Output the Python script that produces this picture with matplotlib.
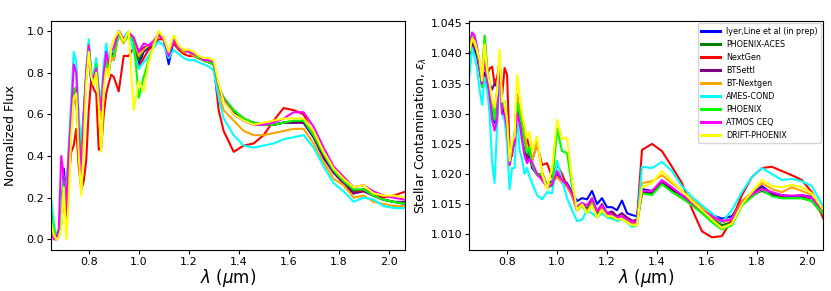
import matplotlib
matplotlib.use('Agg')
import matplotlib.pyplot as plt

# wavelength grid (micron)
wl = [0.65, 0.66, 0.67, 0.68, 0.69, 0.70, 0.71, 0.72, 0.73, 0.74, 0.75, 0.76, 0.77,
      0.78, 0.79, 0.80, 0.81, 0.82, 0.83, 0.84, 0.85, 0.86, 0.87, 0.88, 0.89, 0.90,
      0.92, 0.94, 0.96, 0.98, 1.00, 1.02, 1.04, 1.06, 1.08, 1.10, 1.12, 1.14, 1.16,
      1.18, 1.20, 1.22, 1.24, 1.26, 1.28, 1.30, 1.32,
      1.34, 1.38, 1.42, 1.46, 1.50, 1.54, 1.58, 1.62, 1.66, 1.70, 1.74, 1.78, 1.82,
      1.86, 1.90, 1.94, 1.98, 2.02, 2.07]

labels = ['Iyer,Line et al (in prep)', 'PHOENIX-ACES', 'NextGen', 'BTSettl', 'BT-Nextgen',
          'AMES-COND', 'PHOENIX', 'ATMOS CEQ', 'DRIFT-PHOENIX']
colors = ['blue', 'green', 'red', 'purple', 'orange', 'cyan', 'lime', 'magenta', 'yellow']

# normalized flux
flux_iyer = [0.12, 0.03, 0.01, 0.02, 0.10, 0.34, 0.21, 0.38, 0.58, 0.70, 0.70, 0.48, 0.42, 0.60, 0.78, 0.92, 0.75, 0.76, 0.83, 0.68, 0.62, 0.78, 0.88, 0.80, 0.90, 0.86,
             1.00, 0.95, 0.99, 0.96, 0.84, 0.90, 0.92, 0.95, 0.98, 0.96, 0.84, 0.96, 0.92, 0.90, 0.90, 0.88, 0.87, 0.86, 0.85, 0.84, 0.72,
             0.67, 0.60, 0.57, 0.55, 0.55, 0.55, 0.56, 0.56, 0.56, 0.49, 0.39, 0.32, 0.28, 0.23, 0.24, 0.21, 0.19, 0.18, 0.17]
flux_aces = [0.13, 0.05, 0.02, 0.02, 0.08, 0.30, 0.25, 0.35, 0.55, 0.72, 0.72, 0.50, 0.40, 0.58, 0.80, 0.93, 0.78, 0.75, 0.84, 0.70, 0.60, 0.76, 0.86, 0.82, 0.88, 0.88,
             0.99, 0.96, 0.98, 0.95, 0.86, 0.91, 0.93, 0.95, 0.99, 0.97, 0.88, 0.97, 0.92, 0.91, 0.90, 0.89, 0.87, 0.86, 0.85, 0.84, 0.73,
             0.68, 0.62, 0.58, 0.56, 0.55, 0.55, 0.56, 0.56, 0.57, 0.49, 0.40, 0.33, 0.28, 0.23, 0.24, 0.21, 0.19, 0.18, 0.17]
flux_nextgen = [0.03, 0.01, 0.00, 0.01, 0.08, 0.20, 0.10, 0.30, 0.42, 0.45, 0.53, 0.35, 0.24, 0.28, 0.38, 0.62, 0.77, 0.72, 0.70, 0.43, 0.44, 0.60, 0.70, 0.75, 0.79, 0.78,
                0.71, 0.88, 0.88, 0.92, 0.82, 0.87, 0.91, 0.93, 0.96, 0.96, 0.90, 0.94, 0.91, 0.89, 0.88, 0.88, 0.87, 0.86, 0.85, 0.84, 0.62,
                0.52, 0.42, 0.45, 0.46, 0.50, 0.57, 0.63, 0.62, 0.60, 0.50, 0.40, 0.32, 0.27, 0.22, 0.24, 0.22, 0.20, 0.21, 0.23]
flux_btsettl = [0.12, 0.04, 0.01, 0.02, 0.09, 0.30, 0.22, 0.40, 0.60, 0.66, 0.66, 0.50, 0.42, 0.58, 0.78, 0.90, 0.76, 0.75, 0.82, 0.68, 0.60, 0.77, 0.86, 0.80, 0.89, 0.87,
                1.00, 0.96, 0.98, 0.96, 0.90, 0.92, 0.93, 0.95, 0.98, 0.96, 0.88, 0.96, 0.92, 0.90, 0.91, 0.88, 0.87, 0.86, 0.85, 0.84, 0.73,
                0.67, 0.61, 0.57, 0.56, 0.55, 0.55, 0.56, 0.56, 0.56, 0.49, 0.40, 0.32, 0.27, 0.22, 0.23, 0.21, 0.19, 0.18, 0.18]
flux_btnextgen = [0.10, 0.03, 0.01, 0.02, 0.08, 0.28, 0.20, 0.36, 0.55, 0.68, 0.70, 0.48, 0.38, 0.56, 0.78, 0.92, 0.78, 0.76, 0.82, 0.66, 0.58, 0.75, 0.87, 0.80, 0.88, 0.86,
                  0.98, 0.94, 0.99, 0.96, 0.88, 0.91, 0.93, 0.95, 0.99, 0.96, 0.89, 0.96, 0.92, 0.90, 0.90, 0.88, 0.87, 0.86, 0.85, 0.84, 0.70,
                  0.62, 0.57, 0.52, 0.50, 0.50, 0.51, 0.52, 0.53, 0.53, 0.46, 0.37, 0.29, 0.26, 0.20, 0.21, 0.18, 0.17, 0.16, 0.16]
flux_ames = [0.19, 0.08, 0.02, 0.03, 0.12, 0.30, 0.22, 0.45, 0.68, 0.90, 0.85, 0.60, 0.44, 0.62, 0.82, 0.96, 0.80, 0.80, 0.87, 0.72, 0.68, 0.84, 0.94, 0.85, 0.92, 0.90,
             0.98, 0.97, 1.00, 0.90, 0.82, 0.85, 0.88, 0.92, 0.95, 0.93, 0.87, 0.91, 0.89, 0.87, 0.86, 0.86, 0.85, 0.84, 0.83, 0.81, 0.68,
             0.58, 0.50, 0.45, 0.44, 0.45, 0.46, 0.48, 0.49, 0.50, 0.44, 0.35, 0.27, 0.23, 0.18, 0.20, 0.19, 0.16, 0.15, 0.15]
flux_phoenix = [0.13, 0.05, 0.02, 0.02, 0.08, 0.28, 0.22, 0.38, 0.56, 0.72, 0.73, 0.50, 0.40, 0.58, 0.80, 0.93, 0.80, 0.76, 0.84, 0.70, 0.62, 0.76, 0.86, 0.82, 0.88, 0.88,
                0.99, 0.95, 0.98, 0.96, 0.68, 0.78, 0.86, 0.93, 0.99, 0.97, 0.89, 0.97, 0.92, 0.91, 0.90, 0.89, 0.87, 0.86, 0.85, 0.84, 0.73,
                0.68, 0.62, 0.58, 0.56, 0.55, 0.55, 0.56, 0.57, 0.57, 0.50, 0.41, 0.33, 0.28, 0.24, 0.24, 0.21, 0.19, 0.18, 0.17]
flux_atmos = [0.04, 0.00, 0.00, 0.05, 0.40, 0.30, 0.15, 0.42, 0.60, 0.84, 0.80, 0.52, 0.31, 0.60, 0.80, 0.93, 0.78, 0.78, 0.82, 0.70, 0.62, 0.80, 0.90, 0.84, 0.90, 0.92,
              1.00, 0.96, 0.99, 0.97, 0.90, 0.94, 0.93, 0.95, 0.98, 0.96, 0.88, 0.96, 0.92, 0.91, 0.90, 0.89, 0.88, 0.86, 0.86, 0.85, 0.74,
              0.67, 0.60, 0.57, 0.55, 0.55, 0.56, 0.58, 0.61, 0.61, 0.54, 0.44, 0.35, 0.30, 0.25, 0.26, 0.23, 0.21, 0.20, 0.19]
flux_drift = [0.08, 0.02, 0.00, 0.01, 0.05, 0.25, 0.00, 0.20, 0.50, 0.68, 0.70, 0.40, 0.21, 0.45, 0.75, 0.90, 0.78, 0.74, 0.80, 0.65, 0.42, 0.72, 0.82, 0.78, 0.92, 0.96,
              1.00, 0.95, 1.00, 0.62, 0.76, 0.71, 0.85, 0.93, 1.00, 0.97, 0.90, 0.98, 0.93, 0.91, 0.91, 0.90, 0.88, 0.87, 0.87, 0.86, 0.75,
              0.66, 0.60, 0.57, 0.55, 0.56, 0.57, 0.58, 0.58, 0.58, 0.52, 0.42, 0.34, 0.29, 0.25, 0.26, 0.22, 0.21, 0.21, 0.20]

# stellar contamination
eps_iyer = [1.0400, 1.0420, 1.0410, 1.0405, 1.0385, 1.0350, 1.0368, 1.0350, 1.0335, 1.0310, 1.0285, 1.0330, 1.0370, 1.0310, 1.0300, 1.0270, 1.0225, 1.0245, 1.0250, 1.0300, 1.0290, 1.0270, 1.0255, 1.0222, 1.0230, 1.0210,
            1.0200, 1.0197, 1.0183, 1.0188, 1.0200, 1.0190, 1.0185, 1.0170, 1.0155, 1.0160, 1.0158, 1.0172, 1.0150, 1.0160, 1.0145, 1.0145, 1.0140, 1.0156, 1.0135, 1.0132, 1.0130,
            1.0175, 1.0172, 1.0185, 1.0175, 1.0165, 1.0152, 1.0140, 1.0132, 1.0126, 1.0130, 1.0155, 1.0167, 1.0180, 1.0168, 1.0165, 1.0163, 1.0165, 1.0162, 1.0140]
eps_aces = [1.0405, 1.0428, 1.0420, 1.0400, 1.0380, 1.0345, 1.0420, 1.0370, 1.0345, 1.0315, 1.0290, 1.0335, 1.0385, 1.0320, 1.0310, 1.0280, 1.0215, 1.0240, 1.0250, 1.0320, 1.0300, 1.0280, 1.0250, 1.0230, 1.0240, 1.0215,
            1.0200, 1.0200, 1.0180, 1.0185, 1.0200, 1.0188, 1.0180, 1.0165, 1.0140, 1.0150, 1.0140, 1.0150, 1.0135, 1.0145, 1.0132, 1.0135, 1.0128, 1.0130, 1.0125, 1.0120, 1.0120,
            1.0168, 1.0168, 1.0185, 1.0172, 1.0160, 1.0150, 1.0138, 1.0125, 1.0115, 1.0120, 1.0150, 1.0165, 1.0172, 1.0165, 1.0160, 1.0160, 1.0160, 1.0155, 1.0130]
eps_nextgen = [1.0400, 1.0425, 1.0415, 1.0400, 1.0380, 1.0345, 1.0360, 1.0365, 1.0375, 1.0378, 1.0350, 1.0360, 1.0385, 1.0330, 1.0376, 1.0365, 1.0240, 1.0230, 1.0265, 1.0332, 1.0300, 1.0290, 1.0270, 1.0260, 1.0240, 1.0222,
               1.0250, 1.0215, 1.0218, 1.0195, 1.0215, 1.0200, 1.0180, 1.0165, 1.0140, 1.0150, 1.0140, 1.0150, 1.0135, 1.0140, 1.0130, 1.0135, 1.0125, 1.0130, 1.0125, 1.0120, 1.0125,
               1.0240, 1.0250, 1.0238, 1.0212, 1.0185, 1.0142, 1.0105, 1.0095, 1.0097, 1.0125, 1.0165, 1.0195, 1.0210, 1.0212, 1.0205, 1.0198, 1.0190, 1.0170, 1.0122]
eps_btsettl = [1.0400, 1.0415, 1.0405, 1.0395, 1.0370, 1.0350, 1.0395, 1.0355, 1.0350, 1.0340, 1.0350, 1.0345, 1.0390, 1.0300, 1.0320, 1.0280, 1.0220, 1.0240, 1.0255, 1.0310, 1.0290, 1.0270, 1.0250, 1.0225, 1.0230, 1.0215,
               1.0198, 1.0195, 1.0180, 1.0185, 1.0200, 1.0190, 1.0182, 1.0168, 1.0145, 1.0152, 1.0142, 1.0155, 1.0138, 1.0150, 1.0135, 1.0138, 1.0130, 1.0135, 1.0128, 1.0123, 1.0122,
               1.0170, 1.0170, 1.0187, 1.0175, 1.0165, 1.0152, 1.0140, 1.0128, 1.0120, 1.0125, 1.0152, 1.0165, 1.0178, 1.0165, 1.0162, 1.0160, 1.0162, 1.0160, 1.0136]
eps_btnextgen = [1.0405, 1.0425, 1.0415, 1.0405, 1.0385, 1.0355, 1.0428, 1.0380, 1.0350, 1.0320, 1.0300, 1.0340, 1.0390, 1.0320, 1.0310, 1.0280, 1.0220, 1.0250, 1.0260, 1.0330, 1.0310, 1.0290, 1.0270, 1.0240, 1.0245, 1.0220,
                 1.0253, 1.0205, 1.0180, 1.0185, 1.0195, 1.0185, 1.0178, 1.0165, 1.0140, 1.0150, 1.0138, 1.0152, 1.0128, 1.0145, 1.0132, 1.0132, 1.0125, 1.0130, 1.0122, 1.0118, 1.0120,
                 1.0185, 1.0188, 1.0198, 1.0185, 1.0172, 1.0158, 1.0145, 1.0130, 1.0120, 1.0125, 1.0155, 1.0170, 1.0185, 1.0175, 1.0170, 1.0178, 1.0172, 1.0165, 1.0138]
eps_ames = [1.0365, 1.0410, 1.0395, 1.0375, 1.0340, 1.0315, 1.0360, 1.0340, 1.0300, 1.0220, 1.0185, 1.0280, 1.0360, 1.0300, 1.0290, 1.0250, 1.0175, 1.0210, 1.0210, 1.0300, 1.0240, 1.0225, 1.0200, 1.0210, 1.0195, 1.0185,
            1.0165, 1.0158, 1.0170, 1.0168, 1.0222, 1.0190, 1.0160, 1.0140, 1.0122, 1.0124, 1.0140, 1.0135, 1.0128, 1.0135, 1.0128, 1.0126, 1.0122, 1.0125, 1.0120, 1.0112, 1.0115,
            1.0212, 1.0210, 1.0220, 1.0205, 1.0180, 1.0162, 1.0148, 1.0135, 1.0120, 1.0140, 1.0170, 1.0195, 1.0210, 1.0200, 1.0190, 1.0192, 1.0188, 1.0180, 1.0142]
eps_phoenix = [1.0410, 1.0430, 1.0420, 1.0405, 1.0380, 1.0345, 1.0430, 1.0375, 1.0345, 1.0315, 1.0290, 1.0330, 1.0385, 1.0320, 1.0315, 1.0280, 1.0215, 1.0245, 1.0255, 1.0320, 1.0300, 1.0280, 1.0250, 1.0235, 1.0245, 1.0215,
               1.0198, 1.0200, 1.0178, 1.0180, 1.0275, 1.0238, 1.0235, 1.0180, 1.0140, 1.0148, 1.0135, 1.0150, 1.0130, 1.0140, 1.0130, 1.0128, 1.0125, 1.0125, 1.0120, 1.0115, 1.0115,
               1.0168, 1.0165, 1.0183, 1.0170, 1.0160, 1.0148, 1.0135, 1.0120, 1.0108, 1.0115, 1.0148, 1.0162, 1.0175, 1.0163, 1.0160, 1.0160, 1.0160, 1.0155, 1.0132]
eps_atmos = [1.0410, 1.0435, 1.0430, 1.0410, 1.0380, 1.0350, 1.0400, 1.0360, 1.0330, 1.0290, 1.0272, 1.0290, 1.0395, 1.0300, 1.0300, 1.0275, 1.0215, 1.0240, 1.0250, 1.0300, 1.0285, 1.0255, 1.0230, 1.0218, 1.0225, 1.0220,
             1.0200, 1.0190, 1.0178, 1.0182, 1.0205, 1.0190, 1.0182, 1.0168, 1.0145, 1.0152, 1.0148, 1.0160, 1.0138, 1.0148, 1.0135, 1.0132, 1.0128, 1.0130, 1.0125, 1.0120, 1.0120,
             1.0172, 1.0172, 1.0190, 1.0178, 1.0165, 1.0152, 1.0140, 1.0130, 1.0122, 1.0125, 1.0152, 1.0166, 1.0175, 1.0170, 1.0165, 1.0164, 1.0165, 1.0160, 1.0138]
eps_drift = [1.0405, 1.0425, 1.0420, 1.0405, 1.0390, 1.0355, 1.0415, 1.0370, 1.0350, 1.0325, 1.0310, 1.0335, 1.0406, 1.0320, 1.0320, 1.0290, 1.0222, 1.0255, 1.0262, 1.0365, 1.0330, 1.0300, 1.0280, 1.0260, 1.0270, 1.0240,
             1.0262, 1.0200, 1.0175, 1.0210, 1.0290, 1.0258, 1.0260, 1.0190, 1.0140, 1.0150, 1.0135, 1.0148, 1.0128, 1.0140, 1.0130, 1.0130, 1.0125, 1.0125, 1.0120, 1.0115, 1.0115,
             1.0178, 1.0185, 1.0205, 1.0188, 1.0172, 1.0155, 1.0140, 1.0125, 1.0110, 1.0118, 1.0150, 1.0170, 1.0190, 1.0180, 1.0178, 1.0182, 1.0178, 1.0168, 1.0138]

flux = [flux_iyer, flux_aces, flux_nextgen, flux_btsettl, flux_btnextgen,
        flux_ames, flux_phoenix, flux_atmos, flux_drift]
eps = [eps_iyer, eps_aces, eps_nextgen, eps_btsettl, eps_btnextgen,
       eps_ames, eps_phoenix, eps_atmos, eps_drift]

fig = plt.figure(figsize=(8.31, 2.91), dpi=100)
ax1 = fig.add_axes([0.0614, 0.141, 0.426, 0.787])
ax2 = fig.add_axes([0.5648, 0.141, 0.426, 0.787])

for f, c, lab in zip(flux, colors, labels):
    ax1.plot(wl, f, color=c, lw=1.5, label=lab)
for e, c, lab in zip(eps, colors, labels):
    ax2.plot(wl, e, color=c, lw=1.5, label=lab)

for ax in (ax1, ax2):
    ax.set_xlim(0.649, 2.066)
    ax.set_xticks([0.8, 1.0, 1.2, 1.4, 1.6, 1.8, 2.0])
    ax.tick_params(labelsize=8, pad=2, length=3)
    ax.set_xlabel(r'$\lambda$ ($\mu$m)', fontsize=12, labelpad=0)

ax1.set_ylim(-0.051, 1.048)
ax1.set_yticks([0.0, 0.2, 0.4, 0.6, 0.8, 1.0])
ax1.set_ylabel('Normalized Flux', fontsize=9, labelpad=7)

ax2.set_ylim(1.0074, 1.0454)
ax2.set_yticks([1.010, 1.015, 1.020, 1.025, 1.030, 1.035, 1.040, 1.045])
ax2.set_yticklabels(['1.010', '1.015', '1.020', '1.025', '1.030', '1.035', '1.040', '1.045'])
ax2.set_ylabel(r'Stellar Contamination, $\epsilon_\lambda$', fontsize=9, labelpad=1)

leg = ax2.legend(loc='upper right', fontsize=5.8, handlelength=2.3,
                 borderaxespad=0.3, labelspacing=0.5)
for h in leg.get_lines():
    h.set_linewidth(2.2)

fig.savefig('out.png', dpi=100)
